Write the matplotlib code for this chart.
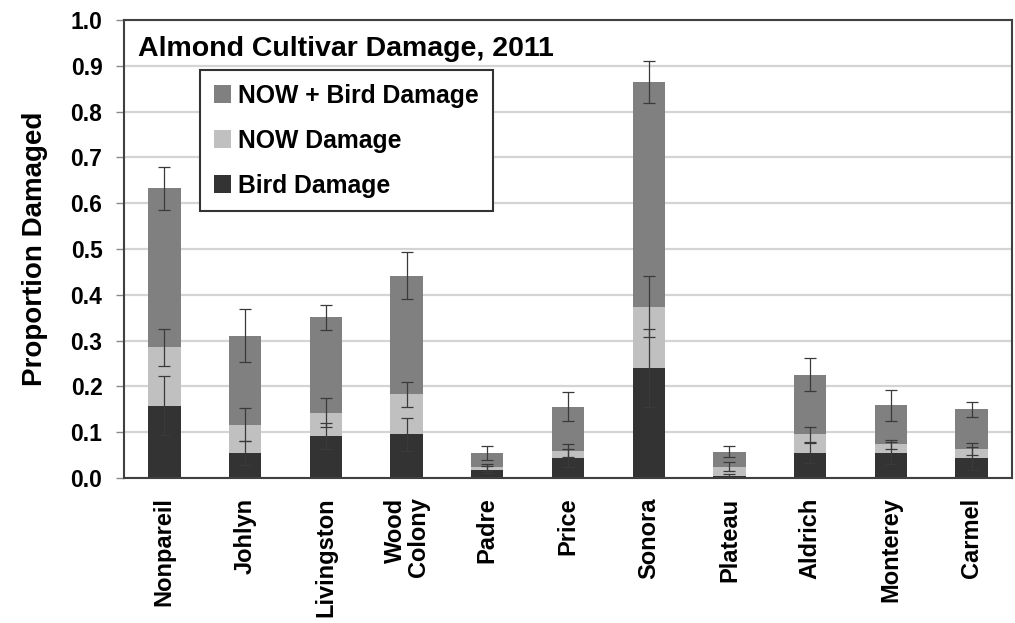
import numpy as np
import matplotlib
matplotlib.use("Agg")
import matplotlib.pyplot as plt
from matplotlib.patches import Patch

plt.rcParams['font.family'] = ['Liberation Sans', 'DejaVu Sans']
plt.rcParams['font.weight'] = 'bold'

cultivars = ["Nonpareil", "Johlyn", "Livingston", "Wood\nColony", "Padre", "Price",
             "Sonora", "Plateau", "Aldrich", "Monterey", "Carmel"]

# Proportion of nuts per damage class (stacked segments)
bird_damage = [0.158, 0.054, 0.091, 0.095, 0.018, 0.044, 0.240, 0.005, 0.055, 0.054, 0.043]
now_damage = [0.127, 0.062, 0.052, 0.088, 0.005, 0.016, 0.134, 0.020, 0.040, 0.020, 0.021]
now_bird_damage = [0.348, 0.195, 0.208, 0.259, 0.032, 0.096, 0.490, 0.032, 0.130, 0.085, 0.086]

# Standard errors for each class
bird_err = [0.065, 0.026, 0.028, 0.037, 0.008, 0.020, 0.085, 0.004, 0.022, 0.024, 0.025]
now_err = [0.040, 0.036, 0.032, 0.027, 0.007, 0.014, 0.067, 0.009, 0.017, 0.010, 0.013]
now_bird_err = [0.047, 0.057, 0.027, 0.051, 0.015, 0.031, 0.046, 0.012, 0.036, 0.034, 0.016]

title = "Almond Cultivar Damage, 2011"
y_label = "Proportion Damaged"
y_ticks = [0.0, 0.1, 0.2, 0.3, 0.4, 0.5, 0.6, 0.7, 0.8, 0.9, 1.0]

c_bird = "#333333"
c_now = "#c0c0c0"
c_both = "#808080"

fig = plt.figure(figsize=(10.15, 6.23), dpi=100)
ax = fig.add_axes([124 / 1015, (623 - 478) / 623, 888 / 1015, 458 / 623])

x = np.arange(len(cultivars))
bird = np.array(bird_damage)
now = np.array(now_damage)
both = np.array(now_bird_damage)
w = 0.4

ax.bar(x, bird, w, color=c_bird, zorder=2)
ax.bar(x, now, w, bottom=bird, color=c_now, zorder=2)
ax.bar(x, both, w, bottom=bird + now, color=c_both, zorder=2)

err_kw = dict(fmt="none", ecolor="#3a3a3a", elinewidth=0.9, capsize=4.5,
              capthick=0.9, zorder=3)
ax.errorbar(x, bird, yerr=bird_err, **err_kw)
ax.errorbar(x, bird + now, yerr=now_err, **err_kw)
ax.errorbar(x, bird + now + both, yerr=now_bird_err, **err_kw)

ax.set_xlim(-0.5, len(cultivars) - 0.5)
ax.set_ylim(0, 1.0)
ax.set_yticks(y_ticks)
ax.set_yticklabels([f"{t:.1f}" for t in y_ticks], fontsize=16.5, fontweight='bold')
ax.yaxis.grid(True, color="#d4d4d4", linewidth=1.6, zorder=0)
ax.set_axisbelow(True)
ax.tick_params(axis='y', direction='out', length=5.5, width=1, color="#8a8a8a", pad=10)
ax.tick_params(axis='x', length=0, pad=14)

ax.set_xticks(x)
ax.set_xticklabels(cultivars, rotation=90, fontsize=17, fontweight='bold',
                   va='top', ha='center', multialignment='right', linespacing=1.0)

for s in ax.spines.values():
    s.set_color("#404040")
    s.set_linewidth(1.5)

ax.set_ylabel(y_label, fontsize=20, fontweight='bold', labelpad=16)

ax.text(0.0158, 0.921, title, transform=ax.transAxes, fontsize=20.5,
        fontweight='bold', va='baseline', ha='left')

handles = [Patch(facecolor=c_both, label="NOW + Bird Damage"),
           Patch(facecolor=c_now, label="NOW Damage"),
           Patch(facecolor=c_bird, label="Bird Damage")]
leg = ax.legend(handles=handles, loc='upper left', bbox_to_anchor=(0.0856, 0.891),
                borderaxespad=0, fancybox=False, framealpha=1, edgecolor="#333333",
                prop=dict(size=17.8, weight='bold'), handlelength=0.7,
                handleheight=0.7, handletextpad=0.3, labelspacing=0.85,
                borderpad=0.55)
leg.get_frame().set_linewidth(1.5)

fig.savefig("out.png", dpi=100)
